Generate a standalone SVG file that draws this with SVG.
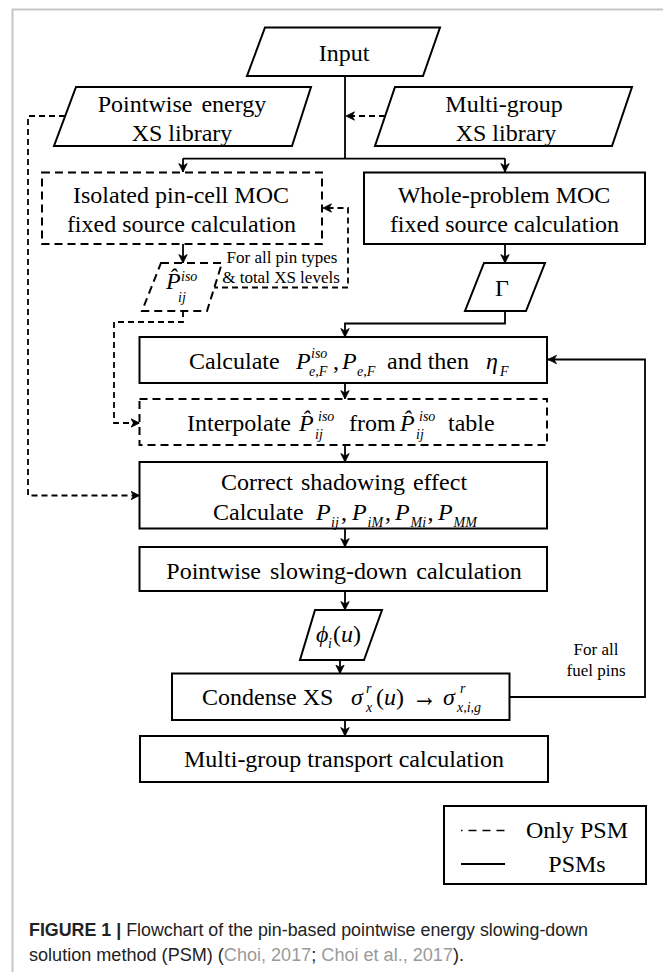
<svg xmlns="http://www.w3.org/2000/svg" width="663" height="972" viewBox="0 0 663 972">
<style>
.frame{fill:none;stroke:#c6c6c6;stroke-width:2}
.box{fill:#fff;stroke:#000;stroke-width:2}
.dbox{fill:#fff;stroke:#000;stroke-width:2;stroke-dasharray:8 5}
.c{fill:none;stroke:#000;stroke-width:1.8}
.d{fill:none;stroke:#000;stroke-width:1.8;stroke-dasharray:6 4}
text{font-family:"Liberation Serif","Times New Roman",serif;fill:#000}
.t{font-size:24px}
.tc{font-size:24px;text-anchor:middle}
.sm{font-size:17px;text-anchor:middle}
.i{font-style:italic}
.sb{font-size:14px;font-style:italic}
.cap{font-family:"Liberation Sans",Arial,sans-serif;font-size:18px;fill:#222}
.lnk{fill:#9a9a9a}
</style>
<defs>
<marker id="ah" markerUnits="userSpaceOnUse" markerWidth="12" markerHeight="12" refX="9" refY="5" orient="auto" viewBox="0 0 12 10">
<path d="M0.5,0.8 L9,5 L0.5,9.2 L3,5 z" fill="#000" stroke="#000" stroke-width="0.8" stroke-dasharray="none"/>
</marker>
</defs>
<rect class="frame" x="12.5" y="9.5" width="700" height="1000"/>

<g id="connectors">
<path class="c" d="M345,76 V158.6"/>
<path class="c" d="M183,158.6 H505"/>
<path class="c" d="M183,158.6 V172" marker-end="url(#ah)"/>
<path class="c" d="M505,158.6 V172" marker-end="url(#ah)"/>
<path class="c" d="M183,244 V263" marker-end="url(#ah)"/>
<path class="c" d="M505,244 V263" marker-end="url(#ah)"/>
<path class="c" d="M505,311 V323.5 H345 V337" marker-end="url(#ah)"/>
<path class="c" d="M345,383 V399" marker-end="url(#ah)"/>
<path class="c" d="M345,445 V462" marker-end="url(#ah)"/>
<path class="c" d="M345,528.5 V547" marker-end="url(#ah)"/>
<path class="c" d="M345,591 V610" marker-end="url(#ah)"/>
<path class="c" d="M340,660 V673.5" marker-end="url(#ah)"/>
<path class="c" d="M345,720 V736" marker-end="url(#ah)"/>
<path class="c" d="M509.5,697 H645 V359.5 H548" marker-end="url(#ah)"/>
<path class="d" d="M385,116 H346" marker-end="url(#ah)"/>
<path class="d" d="M65,116 H28 V495.5 H139.5" marker-end="url(#ah)"/>
<path class="d" d="M212,287.5 H348 V208 H323" marker-end="url(#ah)"/>
<path class="d" d="M183,311 V322 H114 V423 H139.5" marker-end="url(#ah)"/>
</g>

<g id="input">
<polygon class="box" points="265,27.5 440,27.5 423,76 247,76"/>
<text class="tc" x="344" y="61">Input</text>
</g>

<g id="pointwise-library">
<polygon class="box" points="76,87 311,87 292,146 54,146"/>
<text class="tc" x="182" y="112" style="word-spacing:3px">Pointwise energy</text>
<text class="tc" x="182" y="141">XS library</text>
</g>

<g id="multigroup-library">
<polygon class="box" points="395,87 632,87 612,146 375,146"/>
<text class="tc" x="504" y="112">Multi-group</text>
<text class="tc" x="506" y="141">XS library</text>
</g>

<g id="isolated-moc">
<rect class="dbox" x="42" y="172.5" width="280" height="71.5"/>
<text class="tc" x="181" y="203">Isolated pin-cell MOC</text>
<text class="tc" x="181.5" y="232">fixed source calculation</text>
</g>

<g id="whole-moc">
<rect class="box" x="364" y="172.5" width="281" height="71.5"/>
<text class="tc" x="504" y="203">Whole-problem MOC</text>
<text class="tc" x="504.5" y="232">fixed source calculation</text>
</g>

<g id="p-iso">
<polygon class="dbox" points="161,263 222,263 207,311 142,311"/>
<text class="t"><tspan class="i" x="166" y="289">P̂</tspan><tspan class="sb" x="181" y="281">iso</tspan><tspan class="sb" x="178" y="302">ij</tspan></text>
</g>

<g id="pin-types-label">
<text class="sm" x="282" y="263">For all pin types</text>
<text class="sm" x="281" y="283">&amp; total XS levels</text>
</g>

<g id="gamma">
<polygon class="box" points="484,263 545,263 526,311 465,311"/>
<text class="tc" x="502" y="296">Γ</text>
</g>

<g id="calc-eta">
<rect class="box" x="139.5" y="337" width="407.5" height="46"/>
<text class="t"><tspan x="189" y="369">Calculate</tspan><tspan class="i" x="296" y="369">P</tspan><tspan class="sb" x="311" y="358">iso</tspan><tspan class="sb" x="309" y="376">e,F</tspan><tspan x="333" y="369">,</tspan><tspan class="i" x="342" y="369">P</tspan><tspan class="sb" x="357" y="376">e,F</tspan><tspan x="387" y="369">and then</tspan><tspan class="i" x="486" y="369">η</tspan><tspan class="sb" x="500" y="376">F</tspan></text>
</g>

<g id="interpolate">
<rect class="dbox" x="139.5" y="399" width="407.5" height="46"/>
<text class="t"><tspan x="187" y="431">Interpolate</tspan><tspan class="i" x="299" y="431">P̂</tspan><tspan class="sb" x="318" y="421">iso</tspan><tspan class="sb" x="315" y="439">ij</tspan><tspan x="349" y="431">from</tspan><tspan class="i" x="400" y="431">P̂</tspan><tspan class="sb" x="419" y="421">iso</tspan><tspan class="sb" x="416" y="439">ij</tspan><tspan x="448" y="431">table</tspan></text>
</g>

<g id="correct-shadowing">
<rect class="box" x="139.5" y="462" width="407.5" height="66.5"/>
<text class="tc" x="344" y="490" style="word-spacing:2px">Correct shadowing effect</text>
<text class="t"><tspan x="213" y="520">Calculate</tspan><tspan class="i" x="316" y="520">P</tspan><tspan class="sb" x="331" y="527">ij</tspan><tspan x="341" y="520">,</tspan><tspan class="i" x="352" y="520">P</tspan><tspan class="sb" x="367.5" y="527">iM</tspan><tspan x="385" y="520">,</tspan><tspan class="i" x="395" y="520">P</tspan><tspan class="sb" x="410.5" y="527">Mi</tspan><tspan x="427.5" y="520">,</tspan><tspan class="i" x="438" y="520">P</tspan><tspan class="sb" x="453.5" y="527">MM</tspan></text>
</g>

<g id="pointwise-slowing-down">
<rect class="box" x="139.5" y="547" width="407.5" height="44"/>
<text class="tc" x="344" y="579" style="word-spacing:3px">Pointwise slowing-down calculation</text>
</g>

<g id="phi">
<polygon class="box" points="315,610 382,610 364,660 300,660"/>
<text class="t"><tspan class="i" x="316" y="642">ϕ</tspan><tspan class="sb" x="328" y="648">i</tspan><tspan x="333" y="642">(</tspan><tspan class="i">u</tspan><tspan>)</tspan></text>
</g>

<g id="condense">
<rect class="box" x="172" y="673.5" width="337.5" height="46.5"/>
<text class="t"><tspan x="202" y="705">Condense XS</tspan><tspan class="i" x="351" y="705">σ</tspan><tspan class="sb" x="366" y="693">r</tspan><tspan class="sb" x="366" y="712">x</tspan><tspan x="376" y="705">(</tspan><tspan class="i">u</tspan><tspan>)</tspan></text>
<text class="t" x="412" y="706" style="font-size:30px" textLength="25" lengthAdjust="spacingAndGlyphs">→</text>
<text class="t"><tspan class="i" x="443" y="705">σ</tspan><tspan class="sb" x="460" y="693">r</tspan><tspan class="sb" x="457" y="712">x,i,g</tspan></text>
</g>

<g id="fuel-pins-label">
<text class="sm" x="596" y="655">For all</text>
<text class="sm" x="596" y="676">fuel pins</text>
</g>

<g id="multigroup-transport">
<rect class="box" x="140" y="736" width="408" height="46"/>
<text class="tc" x="344" y="767">Multi-group transport calculation</text>
</g>

<g id="legend">
<rect class="box" x="444" y="806" width="202" height="78"/>
<line x1="461" y1="830.5" x2="505" y2="830.5" stroke="#000" stroke-width="1.6" stroke-dasharray="1.5 6 8 6 8 6 8"/>
<text class="t" x="526" y="838">Only PSM</text>
<line x1="461" y1="864" x2="505" y2="864" stroke="#000" stroke-width="1.8"/>
<text class="tc" x="577" y="872">PSMs</text>
</g>

<g id="caption">
<text class="cap" x="29" y="936" textLength="559" lengthAdjust="spacingAndGlyphs"><tspan font-weight="bold">FIGURE 1 |</tspan> Flowchart of the pin-based pointwise energy slowing-down</text>
<text class="cap" x="29" y="961" textLength="435" lengthAdjust="spacingAndGlyphs">solution method (PSM) (<tspan class="lnk">Choi, 2017</tspan>; <tspan class="lnk">Choi et al., 2017</tspan>).</text>
</g>
</svg>
